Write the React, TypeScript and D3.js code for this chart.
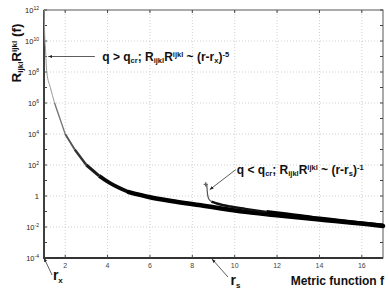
import React from 'react';
import * as d3 from 'd3';

// values: x = metric function f, y = log10 of R_ijkl R^ijkl
const curveX = [1.01, 1.03, 1.07, 1.13, 1.3, 1.5, 1.75, 2.0, 2.45, 3.0, 3.6, 4.1, 5.0, 6.0, 7.0, 8.4, 10.25, 12.1, 14.0, 16.6, 17.0];
const curveLog = [12, 10.5, 9.5, 8, 7, 6, 5, 4, 3, 2, 1.3, 0.85, 0.25, -0.08, -0.32, -0.6, -0.98, -1.25, -1.52, -1.87, -1.93];

const branchX = [8.68, 8.7, 8.72, 8.78, 8.9, 9.2, 9.8, 10.5, 11.5, 12.5, 14.0, 16.0, 17.0];
const branchLog = [0.75, 0.4, 0.1, -0.2, -0.36, -0.5, -0.68, -0.83, -1.03, -1.18, -1.45, -1.76, -1.9];

const xTicks = [2, 4, 6, 8, 10, 12, 14, 16];
const yExps = [-4, -2, 0, 2, 4, 6, 8, 10, 12];
const yMinorExps = [-3, -1, 1, 3, 5, 7, 9, 11];

const W = 389;
const H = 294;
const margin = { top: 10, right: 6, bottom: 36, left: 44 };
const FONT = 'Arial, "Liberation Sans", sans-serif';

// stroke weight per stretch of the main curve (markers get denser lower down)
const mainParts: [number, number, string, number][] = [
  [1, 1.5, '#999', 1],
  [1.5, 2.0, '#777', 1.4],
  [2.0, 2.45, '#555', 1.9],
  [2.45, 3.0, '#333', 2.4],
  [3.0, 3.6, '#1a1a1a', 3],
  [3.6, 5.0, '#0a0a0a', 3.8],
  [5.0, 17, '#000', 4.6],
];

export default function App() {
  const x = d3.scaleLinear().domain([1, 17]).range([margin.left, W - margin.right]);
  const y = d3.scaleLog().domain([1e-4, 1e12]).range([H - margin.bottom, margin.top]);

  const main = curveX.map((v, i) => [v, Math.pow(10, curveLog[i])] as [number, number]);
  const branch = branchX.map((v, i) => [v, Math.pow(10, branchLog[i])] as [number, number]);

  const line = d3.line<[number, number]>()
    .curve(d3.curveMonotoneX)
    .x((d) => x(d[0]))
    .y((d) => y(d[1]));

  const part = (data: [number, number][], a: number, b: number) => data.filter((d) => d[0] >= a && d[0] <= b);

  const x0 = margin.left;
  const x1 = W - margin.right;
  const y0 = H - margin.bottom;
  const y1 = margin.top;

  const sub = { fontSize: 7.5 };
  const plus = d3.symbol().type(d3.symbolCross).size(10)();

  return (
    <svg width={W} height={H} style={{ position: 'absolute', left: 0, top: 0, background: '#fff' }} fontFamily={FONT}>
      {/* grid */}
      {xTicks.map((t) => (
        <line key={'gx' + t} x1={x(t)} x2={x(t)} y1={y0} y2={y1} stroke="#c4c4c4" strokeWidth={0.8} strokeDasharray="1,2" />
      ))}
      {yExps.slice(1, -1).map((e) => (
        <line key={'gy' + e} x1={x0} x2={x1} y1={y(Math.pow(10, e))} y2={y(Math.pow(10, e))} stroke="#c4c4c4" strokeWidth={0.8} strokeDasharray="1,2" />
      ))}

      {/* frame */}
      <rect x={x0} y={y1} width={x1 - x0} height={y0 - y1} fill="none" stroke="#444" strokeWidth={0.9} />
      <line x1={x0} x2={x0} y1={y1} y2={y0 + 1} stroke="#333" strokeWidth={1.8} />
      <line x1={x0} x2={x1} y1={y0} y2={y0} stroke="#333" strokeWidth={1.8} />

      {/* ticks */}
      {xTicks.map((t) => (
        <g key={'tx' + t}>
          <line x1={x(t)} x2={x(t)} y1={y0} y2={y0 - 3} stroke="#444" />
          <line x1={x(t)} x2={x(t)} y1={y1} y2={y1 + 3} stroke="#444" />
          <text x={x(t)} y={y0 + 10} fontSize={7} fill="#444" textAnchor="middle">{t}</text>
        </g>
      ))}
      {yExps.concat(yMinorExps).map((e) => (
        <g key={'ty' + e}>
          <line x1={x0} x2={x0 + 3} y1={y(Math.pow(10, e))} y2={y(Math.pow(10, e))} stroke="#444" />
          <line x1={x1} x2={x1 - 3} y1={y(Math.pow(10, e))} y2={y(Math.pow(10, e))} stroke="#444" />
        </g>
      ))}
      {yExps.map((e) => (
        <text key={'ly' + e} x={x0 - 5} y={y(Math.pow(10, e)) + 2.5} fontSize={7.5} fill="#222" textAnchor="end">
          {e === 0 ? '1' : (
            <>
              10<tspan fontSize={5} dy={-3}>{e}</tspan>
            </>
          )}
        </text>
      ))}

      {/* main curve */}
      {mainParts.map(([a, b, c, w]) => (
        <path key={'m' + a} d={line(part(main, a, b)) || ''} fill="none" stroke={c} strokeWidth={w} strokeLinecap={b === 17 ? 'round' : 'butt'} />
      ))}

      {/* branch starting at r_s */}
      <path d={line(part(branch, 8.6, 8.9)) || ''} fill="none" stroke="#555" strokeWidth={1.2} />
      <path d={line(part(branch, 8.9, 11.5)) || ''} fill="none" stroke="#111" strokeWidth={2.5} />
      <path d={line(part(branch, 11.5, 17)) || ''} fill="none" stroke="#000" strokeWidth={3.8} />
      <path d={plus || ''} transform={`translate(${x(branchX[0]) - 1},${y(Math.pow(10, branchLog[0]))})`} fill="#666" />

      {/* annotations */}
      <defs>
        <marker id="ah" viewBox="0 0 10 10" refX="10" refY="5" markerWidth="5" markerHeight="5" orient="auto-start-reverse">
          <path d="M0,1 L10,5 L0,9 z" fill="#222" />
        </marker>
      </defs>
      <line x1={x(3.4)} x2={x(1.2)} y1={y(1e9)} y2={y(1e9)} stroke="#333" strokeWidth={0.8} markerEnd="url(#ah)" />
      <text x={x(3.75)} y={y(1e9) + 4} fontSize={12} fontWeight="bold" fill="#111">
        q &gt; q<tspan {...sub} dy={2}>cr</tspan><tspan dy={-2}>; R</tspan><tspan {...sub} dy={2}>ijkl</tspan><tspan dy={-2}>R</tspan><tspan {...sub} dy={-4}>ijkl</tspan><tspan dy={4}> ~ (r-r</tspan><tspan {...sub} dy={2}>x</tspan><tspan dy={-2}>)</tspan><tspan {...sub} dy={-4}>-5</tspan>
      </text>

      <line x1={x(10.05)} x2={x(8.82)} y1={y(Math.pow(10, 1.7))} y2={y(Math.pow(10, 0.41))} stroke="#333" strokeWidth={0.8} markerEnd="url(#ah)" />
      <text x={x(10.1)} y={y(Math.pow(10, 1.7)) + 4} fontSize={12} fontWeight="bold" fill="#111">
        q &lt; q<tspan {...sub} dy={2}>cr</tspan><tspan dy={-2}>; R</tspan><tspan {...sub} dy={2}>ijkl</tspan><tspan dy={-2}>R</tspan><tspan {...sub} dy={-4}>ijkl</tspan><tspan dy={4}> ~ (r-r</tspan><tspan {...sub} dy={2}>s</tspan><tspan dy={-2}>)</tspan><tspan {...sub} dy={-4}>-1</tspan>
      </text>

      {/* r_x and r_s markers below the axis */}
      <line x1={x(1)} x2={x(1.38)} y1={y0} y2={y0 + 17} stroke="#333" strokeWidth={0.8} markerStart="url(#ah)" />
      <text x={x(1.42)} y={y0 + 22} fontSize={14} fontWeight="bold" fill="#111">
        r<tspan fontSize={8} dy={3}>x</tspan>
      </text>
      <line x1={x(8.93)} x2={x(9.68)} y1={y0 + 1} y2={y0 + 19} stroke="#333" strokeWidth={0.8} markerStart="url(#ah)" />
      <text x={x(9.8)} y={y0 + 27} fontSize={14} fontWeight="bold" fill="#111">
        r<tspan fontSize={8} dy={3}>s</tspan>
      </text>

      {/* axis titles */}
      <text x={x1 + 1} y={y0 + 27} fontSize={12} fontWeight="bold" fill="#111" textAnchor="end">Metric function f</text>
      <text transform={`translate(21,${y(1e8) - 19}) rotate(-90)`} fontSize={13.5} fontWeight="bold" fill="#111" textAnchor="middle">
        R<tspan fontSize={8} dy={2}>ijkl</tspan><tspan dy={-2}>R</tspan><tspan fontSize={8} dy={-4}>ijkl</tspan><tspan dy={4}> (f)</tspan>
      </text>
    </svg>
  );
}
